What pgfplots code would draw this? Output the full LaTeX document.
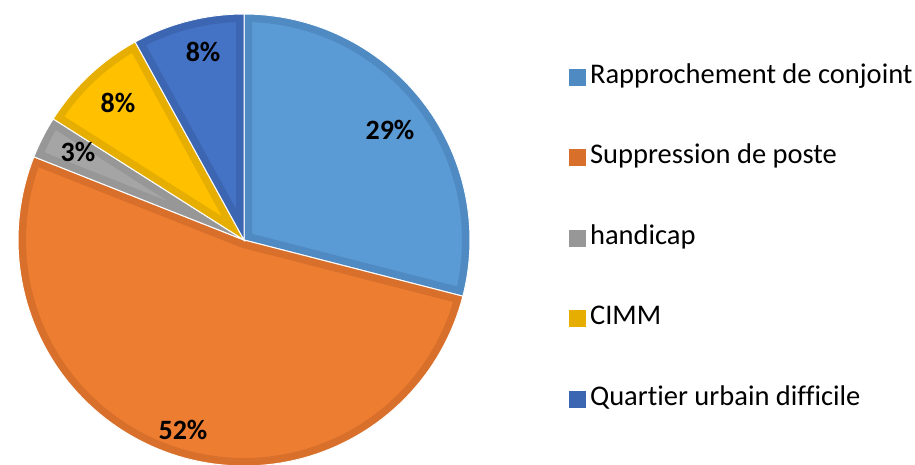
\documentclass[border=0pt]{standalone}
\usepackage{pgfplots}
\pgfplotsset{compat=1.18}
\usepackage{fontspec}
\setmainfont{Carlito}[Ligatures=NoCommon]
\definecolor{cA}{HTML}{5B9BD5}\definecolor{bA}{HTML}{4F8AC2}
\definecolor{cB}{HTML}{ED7D31}\definecolor{bB}{HTML}{D8702B}
\definecolor{cC}{HTML}{A5A5A5}\definecolor{bC}{HTML}{979797}
\definecolor{cD}{HTML}{FFC000}\definecolor{bD}{HTML}{E6AE00}
\definecolor{cE}{HTML}{4472C4}\definecolor{bE}{HTML}{3D66B2}
% data (percent)
\def\valA{29}\def\valB{52}\def\valC{3}\def\valD{8}\def\valE{8}
\pgfmathsetmacro{\aA}{90}
\pgfmathsetmacro{\aB}{\aA-3.6*\valA}
\pgfmathsetmacro{\aC}{\aB-3.6*\valB}
\pgfmathsetmacro{\aD}{\aC-3.6*\valC}
\pgfmathsetmacro{\aE}{\aD-3.6*\valD}
\pgfmathsetmacro{\aF}{\aE-3.6*\valE}
\newcommand{\slice}[4]{%
  \addplot[forget plot, fill=#3, draw=white, line width=1pt, domain=#2:#1, samples=100, variable=\t,
    path picture={\draw[draw=#4, fill=none, line width=16pt, line join=round, path picture={}]
      plot[domain=#2:#1, samples=100, variable=\t] (axis cs:{cos(\t)},{sin(\t)}) -- (axis cs:0,0) -- cycle;}]
    ({cos(t)},{sin(t)}) -- (axis cs:0,0) -- cycle;
}
\newcommand{\legsq}[2]{%
  \addlegendimage{legend image code/.code={\fill[#1] (0pt,-8pt) rectangle (16pt,8pt);}}
  \addlegendentry{#2}
}
\begin{document}
\begin{tikzpicture}
\path[use as bounding box] (0pt,0pt) rectangle (915pt,465pt);
\begin{axis}[
  at={(244pt,225pt)}, anchor=center,
  scale only axis, width=452pt, height=452pt,
  xmin=-1, xmax=1, ymin=-1, ymax=1,
  hide axis, clip=false,
  legend cell align=left,
  legend style={at={(axis description cs:1.219,0.504)}, anchor=west,
    draw=none, fill=none, inner sep=0pt, row sep=56.5pt,
    font=\fontsize{28.5}{30}\selectfont,
    nodes={inner sep=0pt, inner xsep=4.5pt, text height=18pt, text depth=6pt}},
]
\legsq{bA}{Rapprochement de conjoint}
\legsq{bB}{Suppression de poste}
\legsq{bC}{handicap}
\legsq{bD}{CIMM}
\legsq{bE}{Quartier urbain difficile}
\slice{\aA}{\aB}{cA}{bA}
\slice{\aB}{\aC}{cB}{bB}
\slice{\aC}{\aD}{cC}{bC}
\slice{\aD}{\aE}{cD}{bD}
\slice{\aE}{\aF}{cE}{bE}
\begin{scope}[font=\bfseries\fontsize{28}{30}\selectfont]
\node at (axis cs:0.646,0.487) {29\%};
\node at (axis cs:-0.270,-0.841) {52\%};
\node at (axis cs:-0.735,0.389) {3\%};
\node at (axis cs:-0.558,0.606) {8\%};
\node at (axis cs:-0.181,0.832) {8\%};
\end{scope}
\end{axis}
\end{tikzpicture}
\end{document}
